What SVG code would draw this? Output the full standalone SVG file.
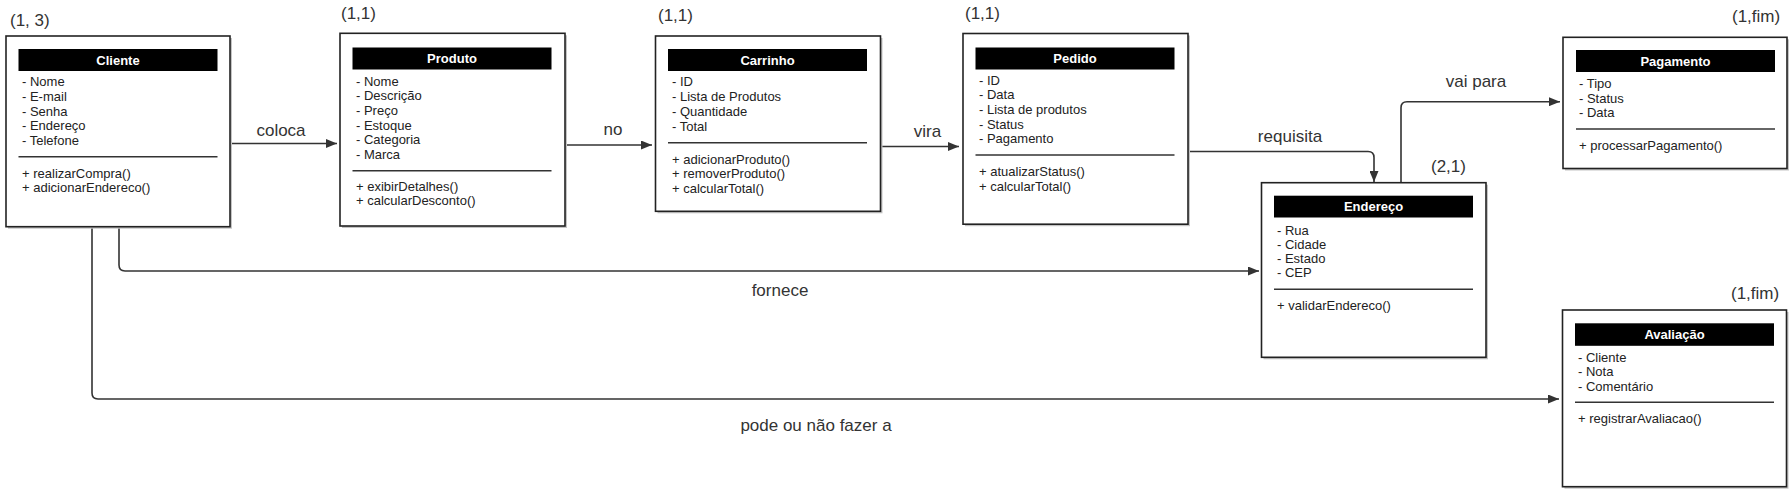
<svg xmlns="http://www.w3.org/2000/svg" width="1792" height="492" viewBox="0 0 1792 492">
<style>
.box{fill:#fff;stroke:#222;stroke-width:1.6}
.shadow{fill:#c4c4c4}
.hdr{fill:#000}
.title{font-family:"Liberation Sans",Arial,sans-serif;font-size:13px;font-weight:bold;fill:#fff;text-anchor:middle}
.attr{font-family:"Liberation Sans",Arial,sans-serif;font-size:13px;fill:#222}
.div{stroke:#333;stroke-width:1.5}
.conn{fill:none;stroke:#333;stroke-width:1.6}
.lbl{font-family:"Liberation Sans",Arial,sans-serif;font-size:17px;fill:#333;text-anchor:middle}
.card{font-family:"Liberation Sans",Arial,sans-serif;font-size:17px;fill:#333}
</style>
<defs>
<marker id="arr" markerUnits="userSpaceOnUse" markerWidth="12" markerHeight="9" refX="11" refY="4.5" orient="auto">
<path d="M0,0 L11,4.5 L0,9 z" fill="#333"/>
</marker>
</defs>
<rect width="1792" height="492" fill="#fff"/>

<g id="connectors">
<path class="conn" d="M231,143.5 H337" marker-end="url(#arr)"/>
<path class="conn" d="M565.5,145 H652" marker-end="url(#arr)"/>
<path class="conn" d="M876,146.5 H959" marker-end="url(#arr)"/>
<path class="conn" d="M1188,151.5 H1368 Q1374,151.5 1374,157.5 V182" marker-end="url(#arr)"/>
<path class="conn" d="M1401,182.7 V107.7 Q1401,101.7 1407,101.7 H1560" marker-end="url(#arr)"/>
<path class="conn" d="M119,227 V265 Q119,271 125,271 H1259" marker-end="url(#arr)"/>
<path class="conn" d="M92,227 V393 Q92,399 98,399 H1559" marker-end="url(#arr)"/>
<text class="lbl" x="281" y="136">coloca</text>
<text class="lbl" x="613" y="135">no</text>
<text class="lbl" x="927.5" y="137">vira</text>
<text class="lbl" x="1290" y="142">requisita</text>
<text class="lbl" x="1476" y="87">vai para</text>
<text class="lbl" x="780" y="296">fornece</text>
<text class="lbl" x="816" y="431">pode ou não fazer a</text>
</g>

<g id="cliente">
<text class="card" x="10" y="26">(1, 3)</text>
<rect class="shadow" x="8" y="38" width="224" height="190.7"/>
<rect class="box" x="6" y="36" width="224" height="190.7"/>
<rect class="hdr" x="18.5" y="49" width="199" height="22"/>
<text class="title" x="118" y="64.5">Cliente</text>
<text class="attr" x="22" y="86.2">- Nome</text>
<text class="attr" x="22" y="100.9">- E-mail</text>
<text class="attr" x="22" y="115.6">- Senha</text>
<text class="attr" x="22" y="130.3">- Endereço</text>
<text class="attr" x="22" y="145">- Telefone</text>
<line class="div" x1="18.5" y1="156.7" x2="217.5" y2="156.7"/>
<text class="attr" x="22" y="177.5">+ realizarCompra()</text>
<text class="attr" x="22" y="192.2">+ adicionarEndereco()</text>
</g>

<g id="produto">
<text class="card" x="341" y="19">(1,1)</text>
<rect class="shadow" x="342" y="35.3" width="225" height="192.7"/>
<rect class="box" x="340" y="33.3" width="225" height="192.7"/>
<rect class="hdr" x="352.5" y="47.5" width="199" height="22"/>
<text class="title" x="452" y="63">Produto</text>
<text class="attr" x="356" y="85.5">- Nome</text>
<text class="attr" x="356" y="100.2">- Descrição</text>
<text class="attr" x="356" y="114.9">- Preço</text>
<text class="attr" x="356" y="129.6">- Estoque</text>
<text class="attr" x="356" y="144.3">- Categoria</text>
<text class="attr" x="356" y="159">- Marca</text>
<line class="div" x1="352.5" y1="170.7" x2="551.5" y2="170.7"/>
<text class="attr" x="356" y="190.5">+ exibirDetalhes()</text>
<text class="attr" x="356" y="205.2">+ calcularDesconto()</text>
</g>

<g id="carrinho">
<text class="card" x="658" y="21">(1,1)</text>
<rect class="shadow" x="657.5" y="38" width="225" height="175.3"/>
<rect class="box" x="655.5" y="36" width="225" height="175.3"/>
<rect class="hdr" x="668" y="49" width="199" height="22"/>
<text class="title" x="767.5" y="64.5">Carrinho</text>
<text class="attr" x="672" y="85.8">- ID</text>
<text class="attr" x="672" y="100.7">- Lista de Produtos</text>
<text class="attr" x="672" y="115.6">- Quantidade</text>
<text class="attr" x="672" y="130.5">- Total</text>
<line class="div" x1="668" y1="142.7" x2="867" y2="142.7"/>
<text class="attr" x="672" y="163.8">+ adicionarProduto()</text>
<text class="attr" x="672" y="178.4">+ removerProduto()</text>
<text class="attr" x="672" y="193">+ calcularTotal()</text>
</g>

<g id="pedido">
<text class="card" x="965" y="19">(1,1)</text>
<rect class="shadow" x="965" y="35.5" width="225" height="190.7"/>
<rect class="box" x="963" y="33.5" width="225" height="190.7"/>
<rect class="hdr" x="975.5" y="47.5" width="199" height="22"/>
<text class="title" x="1075" y="63">Pedido</text>
<text class="attr" x="979" y="84.5">- ID</text>
<text class="attr" x="979" y="99.2">- Data</text>
<text class="attr" x="979" y="113.9">- Lista de produtos</text>
<text class="attr" x="979" y="128.6">- Status</text>
<text class="attr" x="979" y="143.3">- Pagamento</text>
<line class="div" x1="975.5" y1="155" x2="1174.5" y2="155"/>
<text class="attr" x="979" y="176.2">+ atualizarStatus()</text>
<text class="attr" x="979" y="190.9">+ calcularTotal()</text>
</g>

<g id="endereco">
<text class="card" x="1431" y="172">(2,1)</text>
<rect class="shadow" x="1263.5" y="184.7" width="224.5" height="174.6"/>
<rect class="box" x="1261.5" y="182.7" width="224.5" height="174.6"/>
<rect class="hdr" x="1274" y="195.7" width="199" height="21.8"/>
<text class="title" x="1373.5" y="211">Endereço</text>
<text class="attr" x="1277" y="234.5">- Rua</text>
<text class="attr" x="1277" y="248.7">- Cidade</text>
<text class="attr" x="1277" y="262.9">- Estado</text>
<text class="attr" x="1277" y="277.1">- CEP</text>
<line class="div" x1="1274" y1="289.3" x2="1473" y2="289.3"/>
<text class="attr" x="1277" y="309.5">+ validarEndereco()</text>
</g>

<g id="pagamento">
<text class="card" x="1732" y="22">(1,fim)</text>
<rect class="shadow" x="1565" y="39.3" width="224" height="131.2"/>
<rect class="box" x="1563" y="37.3" width="224" height="131.2"/>
<rect class="hdr" x="1576" y="50" width="199" height="22"/>
<text class="title" x="1675.5" y="65.5">Pagamento</text>
<text class="attr" x="1579" y="87.8">- Tipo</text>
<text class="attr" x="1579" y="102.5">- Status</text>
<text class="attr" x="1579" y="117.2">- Data</text>
<line class="div" x1="1576" y1="129" x2="1775" y2="129"/>
<text class="attr" x="1579" y="150.2">+ processarPagamento()</text>
</g>

<g id="avaliacao">
<text class="card" x="1731" y="299">(1,fim)</text>
<rect class="shadow" x="1564.5" y="312" width="224" height="176.7"/>
<rect class="box" x="1562.5" y="310" width="224" height="176.7"/>
<rect class="hdr" x="1575" y="323.3" width="199" height="22.5"/>
<text class="title" x="1674.5" y="339">Avaliação</text>
<text class="attr" x="1578" y="361.8">- Cliente</text>
<text class="attr" x="1578" y="376.2">- Nota</text>
<text class="attr" x="1578" y="390.5">- Comentário</text>
<line class="div" x1="1575" y1="402.3" x2="1774" y2="402.3"/>
<text class="attr" x="1578" y="422.8">+ registrarAvaliacao()</text>
</g>
</svg>
